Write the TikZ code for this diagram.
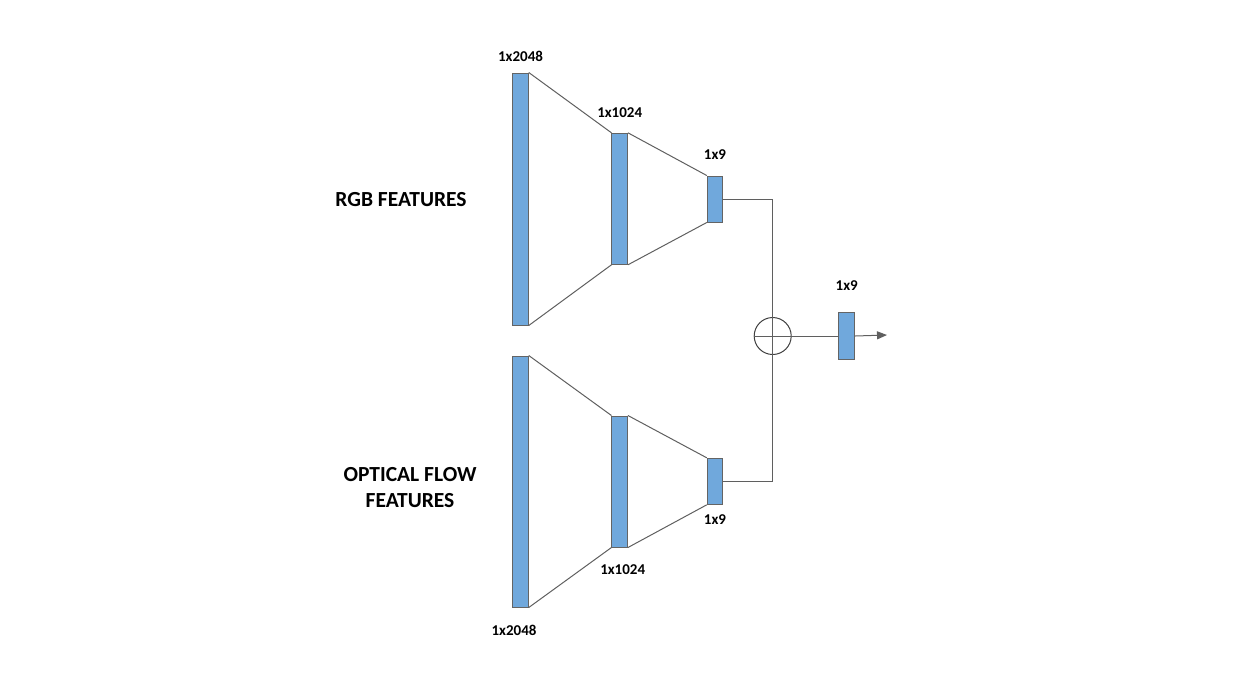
\documentclass[tikz,border=0pt]{standalone}
\usepackage{fontspec}
\setmainfont{Carlito}
\usetikzlibrary{arrows.meta,positioning}
\definecolor{barblue}{RGB}{112,168,220}
\definecolor{bargray}{RGB}{100,100,100}
\definecolor{linegray}{RGB}{95,95,95}

\begin{document}
\begin{tikzpicture}[x=1pt,y=-1pt,line width=1pt,
                    every label/.style={inner sep=0pt,font=\fontsize{15}{17}\selectfont\bfseries}]
  \tikzstyle{bar}=[draw=bargray,fill=barblue,inner sep=0pt,minimum width=15.5pt]
  \tikzstyle{link}=[draw=linegray]
  \tikzstyle{title}=[font=\fontsize{21.5}{26}\selectfont\bfseries,align=center]
  \useasboundingbox (0,0) rectangle (1238,697);

  % rgb branch
  \node[bar, minimum height=252pt, label={[label distance=10pt]90:1x2048}]  (rgbA) at (520.5,199) {};
  \node[bar, minimum height=131pt, label={[label distance=15pt]90:1x1024}]  (rgbB) at (619.7,198.8) {};
  \node[bar, minimum height=46pt,  label={[label distance=16pt]90:1x9}]     (rgbC) at (715,199) {};
  % optical flow branch
  \node[bar, minimum height=251pt, label={[label distance=17.5pt,xshift=-6.5pt]270:1x2048}] (flowA) at (520.5,481.5) {};
  \node[bar, minimum height=131pt, label={[label distance=16.5pt,xshift=3pt]270:1x1024}]    (flowB) at (619.7,481.5) {};
  \node[bar, minimum height=46pt,  label={[label distance=9.5pt]270:1x9}]    (flowC) at (715,481.3) {};

  \node[circle, draw=black!75, inner sep=0pt, minimum size=37pt]          (sum) at (772.7,336) {};
  \node[bar, minimum height=46.5pt, label={[label distance=21pt]90:1x9}]   (out) at (846.7,336) {};
  \coordinate (tip) at (887,335);

  \node[title] (rgbtext)  at (401,200) {RGB FEATURES};
  \node[title] (flowtext) at (410,488) {OPTICAL FLOW\\FEATURES};

  \path[link] (rgbA.north east) edge (rgbB.north west)
              (rgbA.south east) edge (rgbB.south west)
              (rgbB.north east) edge (rgbC.north west)
              (rgbB.south east) edge (rgbC.south west)
              (flowA.north east) edge (flowB.north west)
              (flowA.south east) edge (flowB.south west)
              (flowB.north east) edge (flowC.north west)
              (flowB.south east) edge (flowC.south west);

  \draw[link] (rgbC.east) -| (sum.center) |- (flowC.east);
  \draw[link] (sum.west) -- (out.west);
  \draw[link, -{Triangle[length=10pt,width=8pt]}] (out.east) -- (tip);
\end{tikzpicture}
\end{document}
